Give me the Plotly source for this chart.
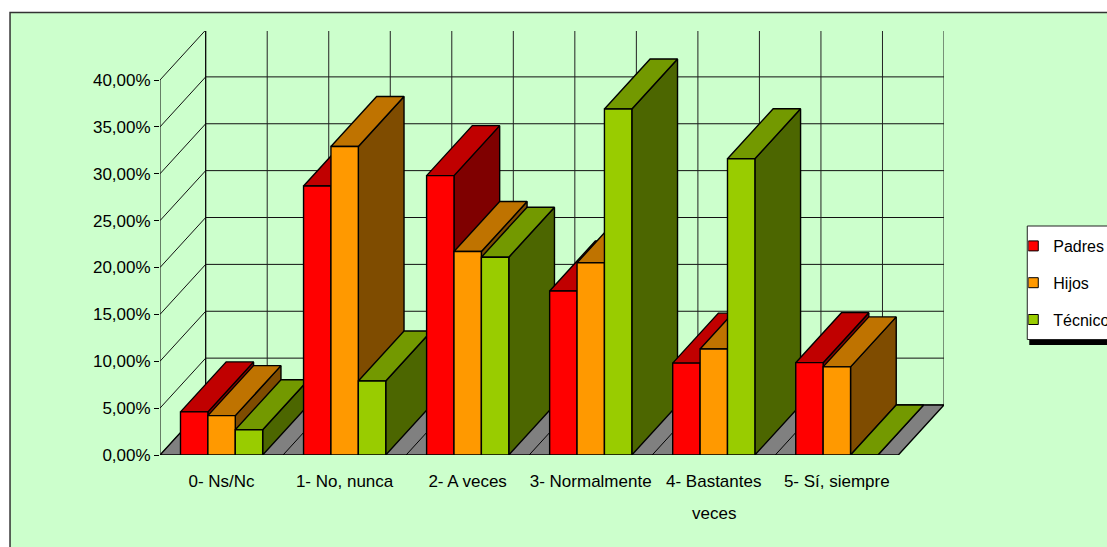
import plotly.graph_objects as go

categories = ["0- Ns/Nc", "1- No, nunca", "2- A veces", "3- Normalmente", "4- Bastantes", "5- Sí, siempre"]
wrapped_label = "veces"
padres = [4.6, 28.7, 29.8, 17.5, 9.8, 9.85]
hijos = [4.2, 32.9, 21.7, 20.5, 11.3, 9.4]
tecnicos = [2.7, 7.9, 21.1, 36.9, 31.6, 0.0]
y_ticks = [0, 5, 10, 15, 20, 25, 30, 35, 40]
y_labels = ["0,00%", "5,00%", "10,00%", "15,00%", "20,00%", "25,00%", "30,00%", "35,00%", "40,00%"]
series = [("Padres", padres, "#FF0000", "#C00000", "#7F0000"),
          ("Hijos", hijos, "#FF9900", "#BF7300", "#7F4C00"),
          ("Técnicos", tecnicos, "#99CC00", "#739900", "#4C6600")]

W, H = 1107, 547
L, R, T, B = 159.5, 943.7, 31.0, 455.0
CAT_PX = (898.0 - L) / 6
UNIT_PX = (B - 80.0) / 40
DX = (R - 898.0) / CAT_PX
DY = (B - 405.0) / UNIT_PX
OFF = 20.5 / CAT_PX
BW = 27.4 / CAT_PX
FONT = "Liberation Sans, Arial, sans-serif"
FS = 17


def px(x):
    return (x - L) / (R - L)


def py(y):
    return (B - y) / (B - T)


fig = go.Figure()


def line(xs, ys, color="#000000", width=1):
    fig.add_trace(go.Scatter(x=xs, y=ys, mode="lines", line=dict(color=color, width=width),
                             showlegend=False, hoverinfo="skip", cliponaxis=False))


def face(xs, ys, fill):
    fig.add_trace(go.Scatter(x=xs + xs[:1], y=ys + ys[:1], mode="lines", fill="toself", fillcolor=fill,
                             line=dict(color="#000000", width=1.4), showlegend=False,
                             hoverinfo="skip", cliponaxis=False))


# back wall and side wall grid
top = y_ticks[-1]
for v in y_ticks:
    line([0, DX, 6 + DX], [v, v + DY, v + DY], "#111111")
for k in range(13):
    line([k / 2 + DX, k / 2 + DX], [DY, top + DY], "#222222")
line([0, 0], [0, top])
line([DX, DX], [DY, top + DY])

# floor
face([0, 6, 6 + DX, DX], [0, 0, DY, DY], "#808080")
for k in range(1, 6):
    line([k, k + DX], [0, DY])

# bars, painted left to right
for c in range(len(categories)):
    for s, (name, vals, front, upper, side) in enumerate(series):
        v = vals[c]
        x0 = c + OFF + s * BW
        x1 = x0 + BW
        face([x1, x1 + DX, x1 + DX, x1], [0, DY, v + DY, v], side)
        face([x0, x1, x1 + DX, x0 + DX], [v, v, v + DY, v + DY], upper)
        face([x0, x1, x1, x0], [0, 0, v, v], front)

# legend entries
for name, vals, front, upper, side in series:
    fig.add_trace(go.Scatter(x=[None], y=[None], mode="markers", name=name, legendgroup=name,
                             marker=dict(symbol="square", size=10, color=front,
                                         line=dict(color="#000000", width=1))))

shapes = [
    dict(type="rect", xref="paper", yref="paper", x0=px(9.5), x1=px(1120), y0=py(560), y1=py(12.5),
         fillcolor="#CCFFCC", line=dict(color="#333333", width=1.5), layer="below"),
    dict(type="rect", xref="paper", yref="paper", x0=px(1029), x1=px(1120), y0=py(345), y1=py(335),
         fillcolor="#000000", line=dict(width=0), layer="below"),
    dict(type="rect", xref="paper", yref="paper", x0=px(1027), x1=px(1120), y0=py(339.5), y1=py(226),
         fillcolor="#FFFFFF", line=dict(color="#222222", width=1), layer="below"),
]

annotations = [
    dict(x=4.5, y=0, xref="x", yref="y", text=wrapped_label, showarrow=False, yanchor="top",
         yshift=-47, font=dict(family=FONT, size=FS, color="#000000")),
]

fig.update_layout(
    width=W, height=H, autosize=False,
    margin=dict(l=L, r=W - R, t=T, b=H - B, pad=0, autoexpand=False),
    paper_bgcolor="#FFFFFF", plot_bgcolor="rgba(0,0,0,0)",
    font=dict(family=FONT, size=FS, color="#000000"),
    shapes=shapes, annotations=annotations,
    showlegend=True,
    legend=dict(x=px(1028), xanchor="left", y=py(229), yanchor="top", bgcolor="rgba(0,0,0,0)",
                borderwidth=0, indentation=-15, tracegroupgap=13,
                traceorder="grouped", font=dict(family=FONT, size=16)),
    xaxis=dict(range=[0, 6 + DX], tickmode="array", tickvals=[i + 0.5 for i in range(6)],
               ticktext=categories, showgrid=False, zeroline=False, showline=False, ticks="",
               ticklabelstandoff=14, tickangle=0, fixedrange=True),
    yaxis=dict(range=[0, (B - T) / UNIT_PX], tickmode="array", tickvals=y_ticks, ticktext=y_labels,
               showgrid=False, zeroline=False, showline=False, ticks="outside", ticklen=5,
               tickcolor="#000000", tickwidth=1, fixedrange=True),
)
fig.write_html("out.html", config=dict(displayModeBar=False),
               post_script="document.body.style.margin='0';document.body.style.overflow='hidden';")
